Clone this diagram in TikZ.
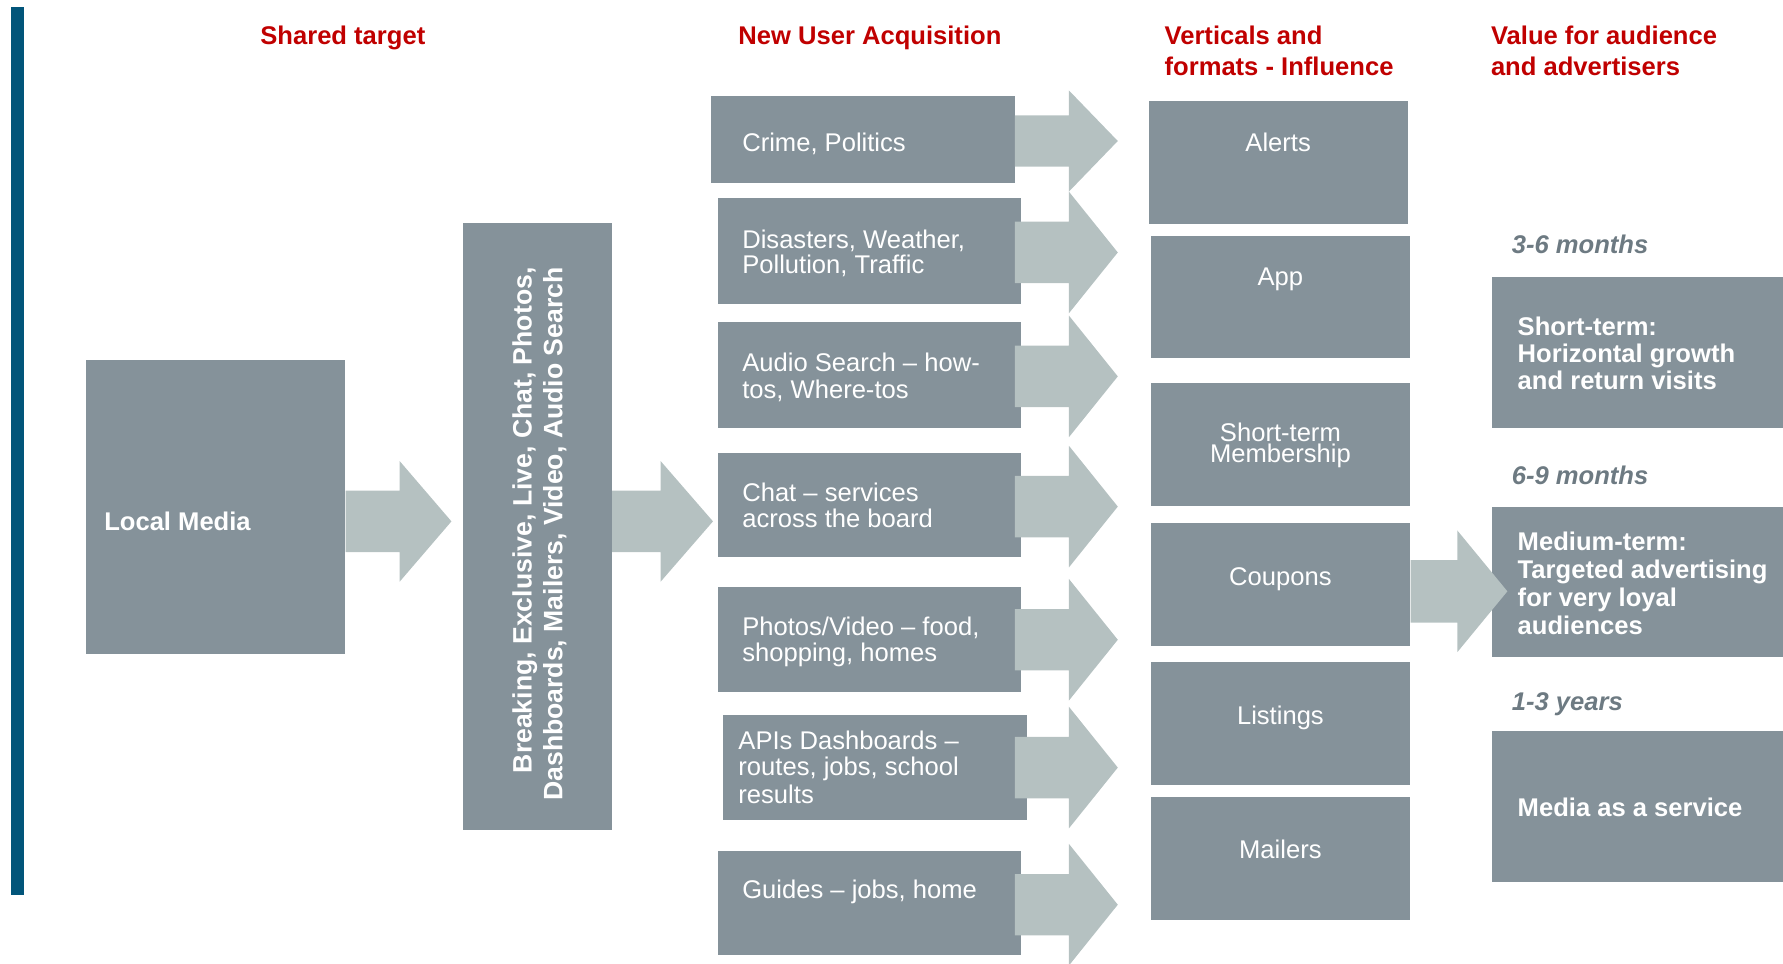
\documentclass[tikz,border=0pt]{standalone}
\usepackage{fontspec}
\setmainfont{Liberation Sans}
\usetikzlibrary{calc}
\definecolor{boxgrey}{HTML}{85929A}
\definecolor{arrowgrey}{HTML}{B5C1C1}
\definecolor{hdrred}{HTML}{C00000}
\definecolor{barblue}{HTML}{02557A}
\definecolor{labgrey}{HTML}{6D7A82}
\newcommand{\blockarrow}[5]{%
  \fill[arrowgrey] ($(#1 |- #2)+(0,#4)$) -- ($(#2)+(-#3,#4)$) -- ($(#2)+(-#3,#5)$) -- (#2)
    -- ($(#2)+(-#3,-#5)$) -- ($(#2)+(-#3,-#4)$) -- ($(#1 |- #2)+(0,-#4)$) -- cycle;}
\begin{document}
\begin{tikzpicture}[x=1pt,y=-1pt,
  box/.style={fill=boxgrey, draw=none, inner sep=0pt, anchor=north west},
  hdr/.style={text=hdrred, font=\bfseries\fontsize{22.5}{27}\selectfont, inner sep=0pt, align=left, anchor=base west},
  txt/.style={text=white, font=\fontsize{22.5}{23}\selectfont, inner sep=0pt, align=left, anchor=base west},
  ctxt/.style={text=white, font=\fontsize{22.5}{23}\selectfont, inner sep=0pt, align=center, anchor=base},
  btxt/.style={text=white, font=\bfseries\fontsize{22.5}{24}\selectfont, inner sep=0pt, align=left, anchor=base west},
  lab/.style={text=labgrey, font=\bfseries\itshape\fontsize{22.5}{24}\selectfont, inner sep=0pt, anchor=base west}]
\useasboundingbox (0,0) rectangle (1568,847);
% blue bar
\fill[barblue] (9.5,6.5) rectangle (21,787);
% headers (anchor base = baseline of the last line)
\node[hdr, anchor=base] (h1) at (301.5,38.7) {Shared target};
\node[hdr, anchor=base] (h2) at (765,38.7) {New User Acquisition};
\node[hdr] (h3) at (1024,66) {Verticals and\\formats - Influence};
\node[hdr] (h4) at (1311,66) {Value for audience\\and advertisers};
% left boxes
\node[box, minimum width=228.5pt, minimum height=259pt] (lm) at (75,316) {};
\node[box, minimum width=131pt, minimum height=534pt] (vb) at (407,196) {};
% middle boxes
\node[box, minimum width=267pt, minimum height=77pt] (crime) at (625,84) {};
\node[box, minimum width=267pt, minimum height=93pt] (dis) at (631,174) {};
\node[box, minimum width=267pt, minimum height=93pt] (aud) at (631,283) {};
\node[box, minimum width=267pt, minimum height=92pt] (chat) at (631,398) {};
\node[box, minimum width=267pt, minimum height=92pt] (pho) at (631,516) {};
\node[box, minimum width=267pt, minimum height=92pt] (api) at (636,629) {};
\node[box, minimum width=267pt, minimum height=92pt] (gui) at (631,748) {};
% verticals
\node[box, minimum width=228pt, minimum height=108pt] (alerts) at (1010,89) {};
\node[box, minimum width=228pt, minimum height=108pt] (app) at (1012,207) {};
\node[box, minimum width=228pt, minimum height=108pt] (memb) at (1012,337) {};
\node[box, minimum width=228pt, minimum height=108pt] (coup) at (1012,460) {};
\node[box, minimum width=228pt, minimum height=108pt] (list) at (1012,582) {};
\node[box, minimum width=228pt, minimum height=108pt] (mail) at (1012,701) {};
% value boxes
\node[box, minimum width=256pt, minimum height=133pt] (st) at (1312,243) {};
\node[box, minimum width=256pt, minimum height=132pt] (mt) at (1312,446) {};
\node[box, minimum width=256pt, minimum height=132pt] (lt) at (1312,643) {};
% arrow tips
\coordinate (t0) at (397,458.5);
\coordinate (t00) at (627,458.5);
\coordinate (t1) at (983,124);
\coordinate (t2) at (983,222);
\coordinate (t3) at (983,331);
\coordinate (t4) at (983,445.5);
\coordinate (t5) at (983,562.6);
\coordinate (t6) at (983,675);
\coordinate (t7) at (983,795.6);
\coordinate (t8) at (1325.6,520);
% arrows
\blockarrow{lm.east}{t0}{45.5}{27}{53}
\blockarrow{vb.east}{t00}{46}{27}{53}
\blockarrow{crime.east}{t1}{43}{22.5}{44.5}
\blockarrow{crime.east}{t2}{43}{27}{53.5}
\blockarrow{crime.east}{t3}{43}{27}{53.5}
\blockarrow{crime.east}{t4}{43}{27}{53.5}
\blockarrow{crime.east}{t5}{43}{27}{53.5}
\blockarrow{crime.east}{t6}{43}{27}{53.5}
\blockarrow{crime.east}{t7}{43}{27}{53.5}
\blockarrow{coup.east}{t8}{44}{27.5}{53.5}
% texts
\node[btxt] (lmt) at (91.5,466.6) {Local Media};
\node[text=white, font=\bfseries\fontsize{23.4}{27}\selectfont, inner sep=0pt, align=right, rotate=90, anchor=base east] (vbt) at (494.5,235) {Breaking, Exclusive, Live, Chat, Photos,\\Dashboards, Mailers, Video, Audio Search};
\node[txt] (crimet) at (652.6,133.3) {Crime, Politics};
\node[txt, font=\fontsize{22.5}{22}\selectfont] (dist) at (652.6,240.3) {Disasters, Weather,\\Pollution, Traffic};
\node[txt, font=\fontsize{22.5}{23.5}\selectfont] (audt) at (652.6,350.2) {Audio Search -- how-\\tos, Where-tos};
\node[txt] (chatt) at (652.6,463.9) {Chat -- services\\across the board};
\node[txt, font=\fontsize{22.5}{22.6}\selectfont] (phot) at (652.6,581.6) {Photos/Video -- food,\\shopping, homes};
\node[txt] (apit) at (649.2,706.8) {APIs Dashboards --\\routes, jobs, school\\[2pt]results};
\node[txt] (guit) at (652.6,790.5) {Guides -- jobs, home};
\node[ctxt] (alertst) at (1124,132.8) {Alerts};
\node[ctxt] (appt) at (1126,251.4) {App};
\node[ctxt, font=\fontsize{22.5}{19}\selectfont] (membt) at (1126,407) {Short-term\\Membership};
\node[ctxt] (coupt) at (1126,515.2) {Coupons};
\node[ctxt] (listt) at (1126,636.8) {Listings};
\node[ctxt] (mailt) at (1126,755.4) {Mailers};
\node[lab] (l1) at (1329.3,223.3) {3-6 months};
\node[lab] (l2) at (1329.3,426.5) {6-9 months};
\node[lab] (l3) at (1329.3,625.2) {1-3 years};
\node[btxt, font=\bfseries\fontsize{22.5}{23.7}\selectfont] (stt) at (1334.5,342.8) {Short-term:\\Horizontal growth\\and return visits};
\node[btxt, font=\bfseries\fontsize{22.5}{24.6}\selectfont] (mtt) at (1334.5,558.3) {Medium-term:\\Targeted advertising\\for very loyal\\audiences};
\node[btxt] (ltt) at (1334.5,718) {Media as a service};
\end{tikzpicture}
\end{document}
